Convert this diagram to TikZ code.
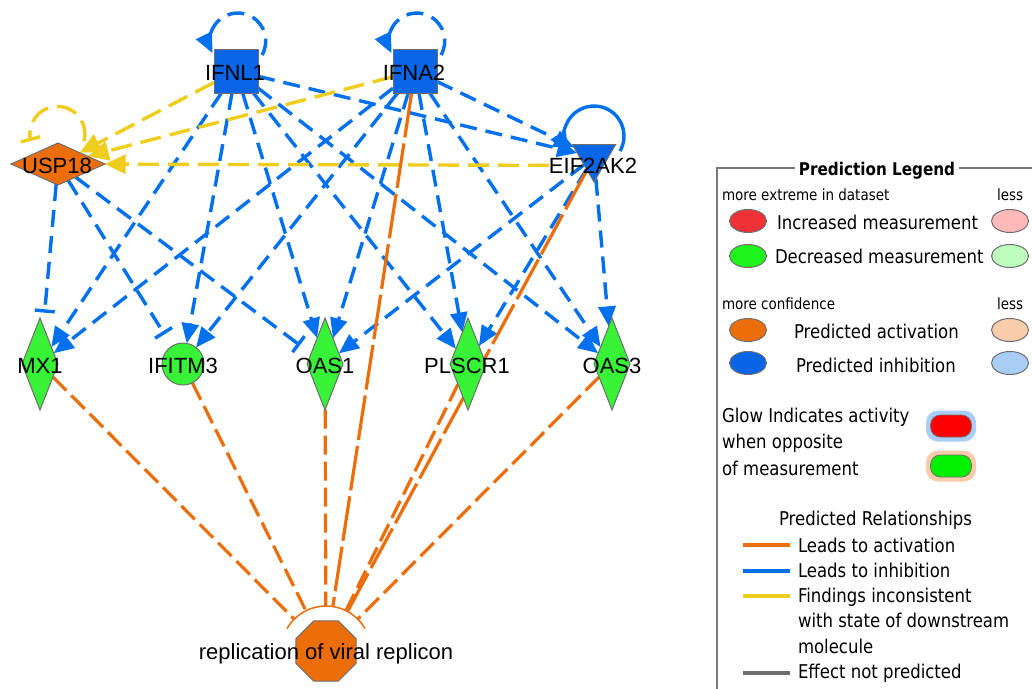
\documentclass[tikz,border=0pt]{standalone}
\usepackage{fontspec}
\setmainfont{Liberation Sans}
\newfontfamily\legfont{DejaVu Sans}[FakeStretch=0.87]
\usetikzlibrary{shapes.geometric,arrows.meta,calc}
\definecolor{nblue}{RGB}{10,102,230}
\definecolor{eblue}{RGB}{0,112,238}
\definecolor{norange}{RGB}{235,110,10}
\definecolor{eorange}{RGB}{235,110,10}
\definecolor{eyellow}{RGB}{238,205,30}
\definecolor{ngreen}{RGB}{55,242,55}
\definecolor{nborder}{RGB}{110,110,110}
\definecolor{lred}{RGB}{240,50,55}
\definecolor{lpink}{RGB}{255,185,185}
\definecolor{lgreen}{RGB}{30,245,30}
\definecolor{llgreen}{RGB}{190,255,190}
\definecolor{lorange}{RGB}{235,110,10}
\definecolor{llorange}{RGB}{250,205,170}
\definecolor{lblue}{RGB}{10,100,230}
\definecolor{llblue}{RGB}{170,205,245}
\definecolor{lgray}{RGB}{110,110,110}
\definecolor{frame}{RGB}{120,120,120}
\definecolor{glowgreen}{RGB}{0,240,0}
\pgfdeclarelayer{bg}
\pgfdeclarelayer{edges}
\pgfsetlayers{bg,edges,main}
\begin{document}
\begin{tikzpicture}[x=1pt,y=-1pt,
  every node/.style={inner sep=0pt, outer sep=0pt},
  gene/.style={draw=nborder, line width=1pt},
  sq/.style={gene, rectangle, fill=nblue, minimum width=44pt, minimum height=44pt},
  dia/.style={gene, diamond, fill=ngreen, minimum width=36pt, minimum height=92pt},
  tri/.style={gene, regular polygon, regular polygon sides=3, shape border rotate=180, fill=nblue, minimum size=50pt},
  lab/.style={font=\fontsize{22}{26}\selectfont, anchor=base},
  blueln/.style={draw=eblue, line width=3.4pt, dash pattern=on 17pt off 9pt},
  barrow/.style={blueln, -{Triangle[length=20pt,width=17pt]}},
  bbar/.style={blueln, -{Bar[width=20pt]}, shorten >=14pt},
  yline/.style={draw=eyellow, line width=3.4pt, dash pattern=on 21pt off 9pt},
  yarrow/.style={yline, -{Triangle[length=21pt,width=19pt]}},
  oline/.style={draw=eorange, line width=3.2pt, dash pattern=on 19pt off 7pt},
  olong/.style={oline, dash pattern=on 45pt off 6pt},
  legframe/.style={draw=frame, line width=1.5pt},
  legell/.style={ellipse, draw=nborder, line width=1pt, minimum width=37pt, minimum height=23pt},
  leg/.style={font=\legfont\fontsize{19}{23}\selectfont, anchor=base west},
  legs/.style={font=\legfont\fontsize{15.5}{18}\selectfont, anchor=base west},
  legline/.style={line width=4pt}
]
\useasboundingbox (0,0) rectangle (1032,688);
\clip (0,0) rectangle (1032,688);
\begin{pgfonlayer}{bg}
\fill[white] (0,0) rectangle (1032,688);
\end{pgfonlayer}

% ---- shapes ----
\node[sq] (ifnl1) at (236,71) {};
\node[sq] (ifna2) at (415,71) {};
\node[tri] (eif) at (594,157) {};
\node[dia, fill=norange, minimum width=94pt, minimum height=42pt] (usp18) at (58,164) {};
\node[dia] (mx1) at (40,364) {};
\node[gene, circle, fill=ngreen, minimum size=42pt] (ifitm3) at (183,364) {};
\node[dia] (oas1) at (325,364) {};
\node[dia] (plscr1) at (468,364) {};
\node[dia] (oas3) at (612,364) {};
\node[gene, regular polygon, regular polygon sides=8, fill=norange, minimum size=65pt] (repl) at (326,651) {};
\node[circle, minimum size=90pt] (replarc) at (326,651) {};

% ---- labels ----
\node[lab] (ifnl1l) at (235,80) {IFNL1};
\node[lab] (ifna2l) at (414,80) {IFNA2};
\node[lab] (eifl) at (593,173) {EIF2AK2};
\node[lab] (usp18l) at (57,173) {USP18};
\node[lab] (mx1l) at (40,373) {MX1};
\node[lab] (ifitm3l) at (183,373) {IFITM3};
\node[lab] (oas1l) at (325,373) {OAS1};
\node[lab] (plscr1l) at (467,373) {PLSCR1};
\node[lab] (oas3l) at (612,373) {OAS3};
\node[lab] (repll) at (326,659) {replication of viral replicon};

% ---- edges ----
\begin{pgfonlayer}{edges}
\foreach \t in {mx1,ifitm3,oas1,plscr1,oas3,eif}{
  \draw[barrow] (ifnl1) -- (\t);
  \draw[barrow] (ifna2) -- (\t);
}
\foreach \t in {oas1,plscr1,oas3}{
  \draw[barrow] (eif) -- (\t);
}
\foreach \t in {mx1,ifitm3,oas1}{
  \draw[bbar] (usp18) -- (\t);
}
\draw[yarrow] (ifnl1) -- (usp18);
\draw[yarrow] (ifna2) -- (usp18);
\draw[yarrow] (eifl.west) -- (usp18);
\foreach \s in {mx1,ifitm3,oas1,plscr1,oas3}{
  \draw[oline] (\s) -- (replarc);
}
\draw[olong] (ifna2) -- (replarc);
\draw[olong] (eif) -- (replarc);
\draw[eorange, line width=1.5pt] (replarc.30) arc[start angle=30, end angle=150, radius=45pt];
% self loops
\draw[barrow] ($(ifnl1)+(26,-16)$) arc[start angle=-30, end angle=206, radius=28pt];
\draw[barrow] ($(ifna2)+(26,-16)$) arc[start angle=-30, end angle=206, radius=28pt];
\draw[draw=eblue, line width=3.4pt, -{Triangle[length=20pt,width=17pt]}] ($(eif)+(26,-6)$) arc[start angle=-30, end angle=212, radius=30pt];
\draw[yline, -{Bar[width=20pt]}] ($(usp18)+(26,-23)$) arc[start angle=-15, end angle=195, radius=27.5pt];
\end{pgfonlayer}

% ---- legend ----
\draw[legframe] (1040,168) -| (717,700);
\node[font=\legfont\bfseries\fontsize{17.5}{20}\selectfont, fill=white, inner xsep=4pt, inner ysep=1pt, anchor=base] (legtitle) at (877,175) {Prediction Legend};
\node[legs] (t1) at (722,200) {more extreme in dataset};
\node[legs] (t2) at (997,200) {less};
\node[legell, fill=lred] (e1) at (748,221) {};
\node[leg] (t3) at (777,229) {Increased measurement};
\node[legell, fill=lpink] (e2) at (1010,221) {};
\node[legell, fill=lgreen] (e3) at (748,256) {};
\node[leg] (t4) at (775,263) {Decreased measurement};
\node[legell, fill=llgreen] (e4) at (1010,256) {};
\node[legs] (t5) at (722,309) {more confidence};
\node[legs] (t6) at (997,309) {less};
\node[legell, fill=lorange] (e5) at (748,330) {};
\node[leg] (t7) at (794,338) {Predicted activation};
\node[legell, fill=llorange] (e6) at (1010,330) {};
\node[legell, fill=lblue] (e7) at (748,363) {};
\node[leg] (t8) at (796,372) {Predicted inhibition};
\node[legell, fill=llblue] (e8) at (1010,363) {};
\node[leg] (t9) at (722,422) {Glow Indicates activity};
\node[leg] (t10) at (722,448) {when opposite};
\node[leg] (t11) at (722,475) {of measurement};
\node[rounded corners=12pt, fill=llblue, minimum width=50pt, minimum height=31pt] (g1) at (951,426) {};
\node[rounded corners=10pt, fill=red, draw=nborder, line width=0.8pt, minimum width=41pt, minimum height=22pt] (g1in) at (951,426) {};
\node[rounded corners=12pt, fill=llorange, minimum width=50pt, minimum height=31pt] (g2) at (951,466) {};
\node[rounded corners=10pt, fill=glowgreen, draw=nborder, line width=0.8pt, minimum width=41pt, minimum height=22pt] (g2in) at (951,466) {};
\node[leg] (t12) at (779,525) {Predicted Relationships};
\draw[legline, lorange] (743,545) -- (790,545);
\node[leg] (t13) at (798,552) {Leads to activation};
\draw[legline, eblue] (743,571) -- (790,571);
\node[leg] (t14) at (798,577) {Leads to inhibition};
\draw[legline, eyellow] (743,596) -- (790,596);
\node[leg] (t15) at (798,602) {Findings inconsistent};
\node[leg] (t16) at (798,627) {with state of downstream};
\node[leg] (t17) at (798,653) {molecule};
\draw[legline, lgray] (743,673) -- (790,673);
\node[leg] (t18) at (798,678) {Effect not predicted};
\end{tikzpicture}
\end{document}
